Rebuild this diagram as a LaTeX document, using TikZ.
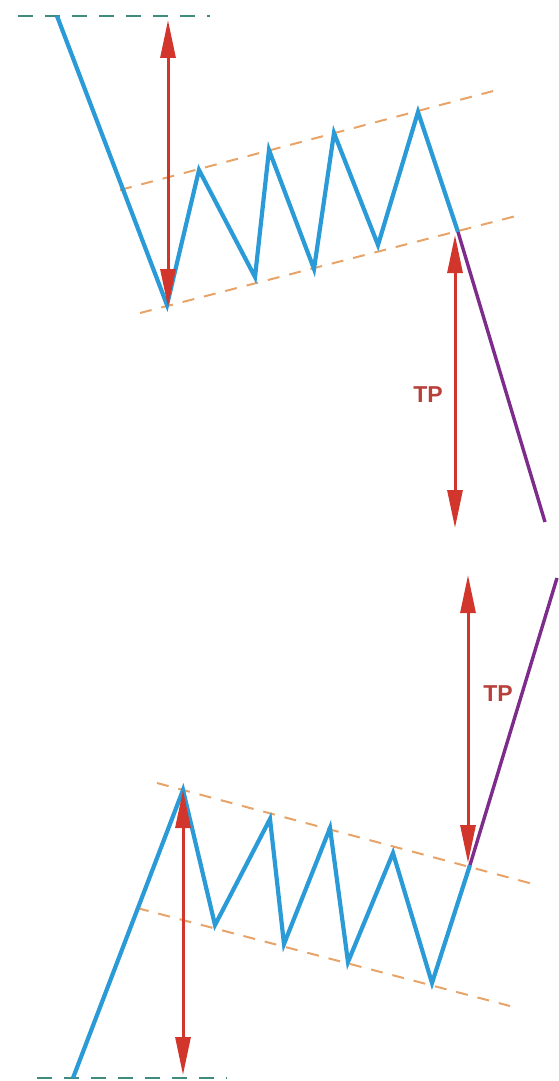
\documentclass[tikz,border=0pt]{standalone}
\usepackage{fontspec}
\setsansfont{Liberation Sans}
\usepackage{xcolor}
\usetikzlibrary{arrows.meta}

\definecolor{waveblue}{HTML}{2B9BD8}
\definecolor{breakpurple}{HTML}{7D2C8C}
\definecolor{chanorange}{HTML}{E8A468}
\definecolor{lvlgreen}{HTML}{3F8C7E}
\definecolor{tpred}{HTML}{D2352C}
\definecolor{tptext}{HTML}{B8403A}

\begin{document}
\begin{tikzpicture}[
  x=1pt, y=-1pt,
  font=\sffamily,
  wave/.style    ={line width=4.2pt, draw=waveblue},
  breakout/.style={line width=3.4pt, draw=breakpurple},
  chan/.style    ={line width=2pt, draw=chanorange, dash pattern=on 12pt off 10pt},
  lvl/.style     ={line width=2.2pt, draw=lvlgreen, dash pattern=on 15pt off 12pt},
  span/.style    ={line width=3pt, draw=tpred,
                   {Triangle[length=38pt,width=15pt]}-{Triangle[length=38pt,width=15pt]}},
  tplabel/.style ={text=tptext, font=\sffamily\bfseries\fontsize{23}{23}\selectfont},
]
\useasboundingbox (0,0) rectangle (559,1081);

% Upper pattern: drop, rising flag, breakdown
\coordinate (t0) at (57,16);
\coordinate (t1) at (167,305);
\coordinate (t2) at (199,170);
\coordinate (t3) at (255,277);
\coordinate (t4) at (269,150);
\coordinate (t5) at (314,269);
\coordinate (t6) at (334,133);
\coordinate (t7) at (378,245);
\coordinate (t8) at (418,112);
\coordinate (t9) at (458,232);
\coordinate (tend) at (545,522);

\coordinate (tlvlA) at (18,16);
\coordinate (tlvlB) at (210,16);
\coordinate (tupA) at (120,190);
\coordinate (tupB) at (497,90);
\coordinate (tloA) at (140,313);
\coordinate (tloB) at (520,215);

\coordinate (tpoleA) at (168,20);
\coordinate (tpoleB) at (168,307);
\coordinate (ttpA) at (455,235);
\coordinate (ttpB) at (455,528);

\draw[lvl]  (tlvlA) -- (tlvlB);
\draw[chan] (tupA) -- (tupB);
\draw[chan] (tloA) -- (tloB);
\draw[wave] (t0) -- (t1) -- (t2) -- (t3) -- (t4) -- (t5) -- (t6) -- (t7) -- (t8) -- (t9);
\draw[breakout] (t9) -- (tend);
\draw[span] (tpoleA) -- (tpoleB);
\draw[span] (ttpA) -- (ttpB);
\node[tplabel] (tp1) at (428,395) {TP};

% Lower pattern: rise, falling flag, breakout
\coordinate (b0) at (73,1078);
\coordinate (b1) at (183,790);
\coordinate (b2) at (215,925);
\coordinate (b3) at (270,819);
\coordinate (b4) at (284,944);
\coordinate (b5) at (330,828);
\coordinate (b6) at (348,962);
\coordinate (b7) at (393,853);
\coordinate (b8) at (432,983);
\coordinate (b9) at (470,865);
\coordinate (bend) at (557,578);

\coordinate (blvlA) at (37,1078);
\coordinate (blvlB) at (227,1078);
\coordinate (bupA) at (157,783);
\coordinate (bupB) at (533,884);
\coordinate (bloA) at (137,908);
\coordinate (bloB) at (510,1006);

\coordinate (bpoleA) at (183,790);
\coordinate (bpoleB) at (183,1075);
\coordinate (btpA) at (468,575);
\coordinate (btpB) at (468,863);

\draw[lvl]  (blvlA) -- (blvlB);
\draw[chan] (bupA) -- (bupB);
\draw[chan] (bloA) -- (bloB);
\draw[wave] (b0) -- (b1) -- (b2) -- (b3) -- (b4) -- (b5) -- (b6) -- (b7) -- (b8) -- (b9);
\draw[breakout] (b9) -- (bend);
\draw[span] (bpoleA) -- (bpoleB);
\draw[span] (btpA) -- (btpB);
\node[tplabel] (tp2) at (498,694) {TP};

\end{tikzpicture}
\end{document}
